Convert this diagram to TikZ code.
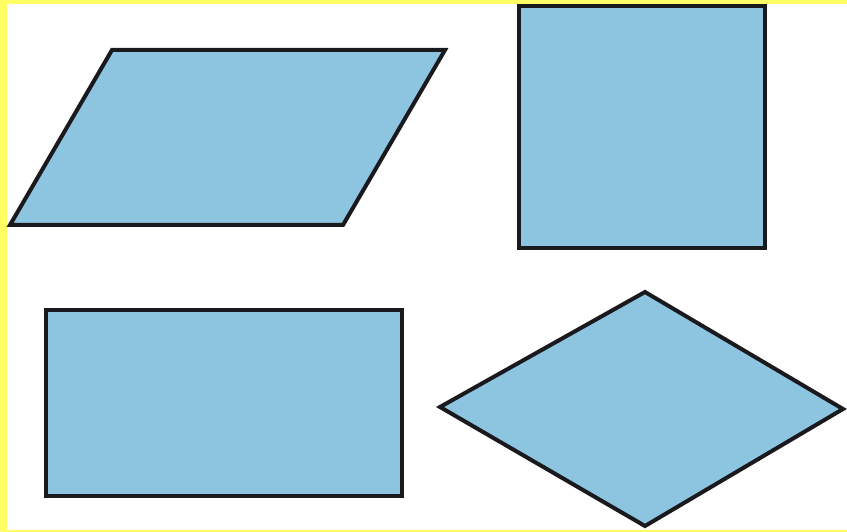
\documentclass[tikz,border=0pt]{standalone}
\usepackage{tikz}
\usetikzlibrary{calc}
\usepackage{xcolor}
\definecolor{shapeblue}{RGB}{141, 196, 224}
\definecolor{edgeyellow}{RGB}{255, 255, 100}
\definecolor{outline}{RGB}{25, 25, 30}

\begin{document}
\begin{tikzpicture}[x=1pt, y=-1pt, blueshape/.style={fill=shapeblue, draw=outline, line width=4pt, line join=miter}]
  % frame
  \fill[edgeyellow] (0,0) rectangle (847,532);
  \fill[white] (7,4) rectangle (847,530);
  \useasboundingbox (0,0) rectangle (847,532);

  % parallelogram
  \draw[blueshape] (112,50) -- (445,50) -- (343,225) -- (10,225) -- cycle;
  % square
  \draw[blueshape] (519,6) rectangle (765,248);
  % rectangle
  \draw[blueshape] (46,310) rectangle (402,496);
  % diamond
  \draw[blueshape] (645,292) -- (843,409) -- (645,526) -- (440,407) -- cycle;
\end{tikzpicture}
\end{document}
